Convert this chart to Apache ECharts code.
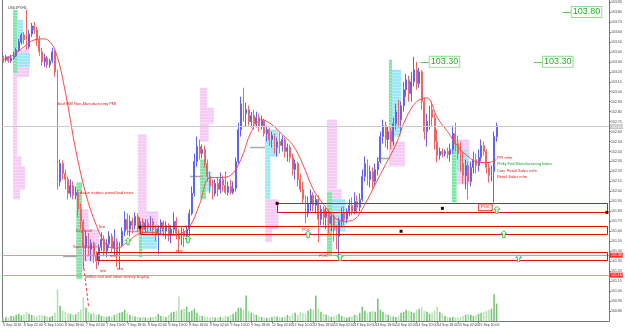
<!DOCTYPE html>
<html>
<head>
<meta charset="utf-8">
<script src="https://cdn.jsdelivr.net/npm/echarts@6/dist/echarts.min.js"></script>
<style>
  html, body { margin: 0; padding: 0; background: #fff; }
  #chart { width: 625px; height: 329px; }
</style>
</head>
<body>
<div id="chart"></div>
<script>
// hourly bars, [open, close, low, high]
const candles = [
  [103.34,103.32,103.29,103.36],[103.32,103.35,103.30,103.37],[103.35,103.31,103.29,103.36],[103.31,103.34,103.29,103.37],
  [103.34,103.36,103.32,103.40],[103.36,103.42,103.35,103.44],[103.42,103.50,103.40,103.53],[103.50,103.57,103.47,103.59],
  [103.57,103.52,103.48,103.60],[103.52,103.45,103.42,103.82],[103.45,103.58,103.43,103.62],[103.58,103.66,103.55,103.69],
  [103.66,103.62,103.58,103.70],[103.62,103.52,103.46,103.65],[103.52,103.40,103.36,103.56],[103.40,103.30,103.26,103.44],
  [103.30,103.34,103.25,103.38],[103.34,103.27,103.24,103.36],[103.27,103.31,103.24,103.33],[103.31,103.40,103.29,103.44],
  [103.40,103.20,103.15,103.42],[103.20,102.10,102.02,103.22],[102.10,102.28,102.05,102.32],[102.28,102.18,102.12,102.31],
  [102.18,102.12,102.02,102.22],[102.12,101.98,101.92,102.15],[101.98,102.06,101.94,102.12],[102.06,101.96,101.92,102.10],
  [101.96,101.99,101.92,102.05],[101.99,101.82,101.74,102.02],[101.82,101.70,101.62,101.88],[101.70,101.45,101.22,101.72],
  [101.45,101.55,101.30,101.60],[101.55,101.42,101.36,101.58],[101.42,101.48,101.30,101.52],[101.48,101.35,101.28,101.50],
  [101.35,101.30,101.22,101.40],[101.30,101.44,101.26,101.47],[101.44,101.52,101.40,101.59],[101.52,101.40,101.35,101.56],
  [101.40,101.47,101.34,101.52],[101.47,101.55,101.43,101.60],[101.55,101.43,101.38,101.58],[101.43,101.50,101.36,101.62],
  [101.50,101.35,101.24,101.53],[101.35,101.46,101.22,101.49],[101.46,101.60,101.44,101.64],[101.60,101.72,101.55,101.80],
  [101.72,101.62,101.56,101.78],[101.62,101.70,101.55,101.76],[101.70,101.66,101.58,101.74],[101.66,101.75,101.62,101.79],
  [101.75,101.64,101.59,101.78],[101.64,101.70,101.60,101.74],[101.70,101.62,101.57,101.73],[101.62,101.68,101.58,101.72],
  [101.68,101.64,101.59,101.72],[101.64,101.70,101.60,101.75],[101.70,101.62,101.57,101.73],[101.62,101.58,101.50,101.66],
  [101.58,101.63,101.37,101.66],[101.63,101.69,101.58,101.72],[101.69,101.60,101.55,101.71],[101.60,101.66,101.52,101.70],
  [101.66,101.56,101.50,101.68],[101.56,101.62,101.48,101.66],[101.62,101.70,101.57,101.79],[101.70,101.58,101.52,101.74],
  [101.58,101.52,101.39,101.62],[101.52,101.60,101.46,101.64],[101.60,101.55,101.44,101.63],[101.55,101.62,101.50,101.66],
  [101.62,101.78,101.55,101.82],[101.78,101.98,101.76,102.05],[101.98,102.30,101.95,102.38],[102.30,102.45,102.25,102.55],
  [102.45,102.38,102.32,102.52],[102.38,102.42,102.33,102.47],[102.42,102.28,102.24,102.46],[102.28,102.15,102.10,102.32],
  [102.15,102.05,101.98,102.20],[102.05,101.98,101.92,102.12],[101.98,102.08,101.95,102.12],[102.08,102.02,101.95,102.14],
  [102.02,102.12,101.98,102.19],[102.12,102.06,102.00,102.16],[102.06,101.99,101.97,102.20],[101.99,102.05,101.96,102.10],
  [102.05,101.99,101.97,102.12],[101.99,102.03,101.97,102.10],[102.03,102.30,102.00,102.34],[102.30,102.62,102.28,102.69],
  [102.62,102.88,102.55,102.95],[102.88,102.78,102.70,103.04],[102.78,102.82,102.65,102.89],[102.82,102.70,102.66,102.86],
  [102.70,102.76,102.64,102.80],[102.76,102.68,102.62,102.82],[102.68,102.74,102.64,102.80],[102.74,102.66,102.60,102.78],
  [102.66,102.71,102.62,102.76],[102.71,102.58,102.55,102.73],[102.58,102.62,102.50,102.66],[102.62,102.52,102.46,102.64],
  [102.52,102.56,102.44,102.60],[102.56,102.44,102.38,102.58],[102.44,102.50,102.35,102.54],[102.50,102.46,102.38,102.59],
  [102.46,102.52,102.40,102.56],[102.52,102.40,102.34,102.54],[102.40,102.44,102.30,102.48],[102.44,102.34,102.29,102.47],
  [102.34,102.22,102.16,102.38],[102.22,102.28,102.12,102.32],[102.28,102.12,102.05,102.30],[102.12,102.02,101.99,102.18],
  [102.02,101.92,101.88,102.10],[101.92,101.78,101.68,101.96],[101.78,101.88,101.74,101.95],[101.88,101.96,101.80,102.02],
  [101.96,101.86,101.80,101.99],[101.86,101.92,101.78,101.96],[101.92,101.72,101.49,101.96],[101.72,101.82,101.66,101.86],
  [101.82,101.74,101.66,101.85],[101.74,101.80,101.62,101.84],[101.80,101.68,101.58,101.82],[101.68,101.75,101.60,101.78],
  [101.75,101.62,101.50,101.78],[101.62,101.55,101.42,101.66],[101.55,101.70,101.32,101.74],[101.70,101.78,101.64,101.84],
  [101.78,101.72,101.66,101.85],[101.72,101.80,101.68,101.83],[101.80,101.86,101.75,101.92],[101.86,101.80,101.76,101.94],
  [101.80,101.90,101.77,101.99],[101.90,101.84,101.78,101.96],[101.84,101.92,101.80,101.98],[101.92,102.15,101.90,102.22],
  [102.15,102.28,102.10,102.35],[102.28,102.12,102.06,102.32],[102.12,102.20,102.04,102.26],[102.20,102.10,102.02,102.24],
  [102.10,102.22,102.06,102.28],[102.22,102.30,102.16,102.34],[102.30,102.55,102.28,102.60],[102.55,102.66,102.48,102.72],
  [102.66,102.52,102.44,102.70],[102.52,102.60,102.42,102.65],[102.60,102.50,102.42,102.64],[102.50,102.68,102.46,102.74],
  [102.68,102.80,102.62,102.88],[102.80,102.72,102.64,102.92],[102.72,102.86,102.60,102.90],[102.86,103.02,102.80,103.10],
  [103.02,103.12,102.95,103.18],[103.12,102.98,102.90,103.16],[102.98,103.10,102.90,103.20],[103.10,103.22,103.05,103.35],
  [103.22,103.08,103.02,103.30],[103.08,103.20,103.04,103.24],[103.20,102.90,102.82,103.22],[102.90,102.60,102.52,102.94],
  [102.60,102.70,102.45,102.78],[102.70,102.82,102.62,102.86],[102.82,102.74,102.66,102.90],[102.74,102.50,102.42,102.78],
  [102.50,102.36,102.29,102.62],[102.36,102.40,102.32,102.44],[102.40,102.38,102.34,102.43],[102.38,102.40,102.35,102.42],
  [102.40,102.37,102.33,102.44],[102.37,102.42,102.30,102.48],[102.42,102.58,102.38,102.66],[102.58,102.48,102.40,102.69],
  [102.48,102.38,102.32,102.56],[102.38,102.28,102.20,102.50],[102.28,102.16,102.08,102.40],[102.16,102.26,102.02,102.32],
  [102.26,102.10,101.92,102.30],[102.10,102.24,102.05,102.30],[102.24,102.32,102.18,102.40],[102.32,102.26,102.18,102.38],
  [102.26,102.34,102.20,102.42],[102.34,102.46,102.30,102.52],[102.46,102.40,102.36,102.50],[102.40,102.24,102.18,102.42],
  [102.24,102.16,102.09,102.28],[102.16,102.22,102.10,102.26],[102.20,102.55,101.89,102.60],[102.55,102.66,102.50,102.69]
];

const volumes = [
  300,400,350,500,450,600,700,550,650,900,700,600,500,450,600,550,
  500,450,400,500,800,3100,1500,1000,900,800,700,600,650,900,1100,2300,
  1300,900,700,800,600,650,500,450,400,500,450,600,700,800,900,1100,
  800,600,500,450,400,350,400,350,300,350,400,500,700,500,450,400,
  600,800,900,1000,2400,1100,1200,1400,900,1000,1200,800,600,500,450,400,
  350,400,350,300,400,350,500,450,600,700,900,1300,1300,1100,2500,1000,
  800,700,600,450,400,350,300,350,400,500,450,400,350,400,600,500,
  700,800,600,900,800,700,1000,1200,1100,2500,1200,900,700,600,500,400,
  450,600,700,500,400,350,400,500,600,550,800,1400,1000,800,900,1000,
  900,2200,1100,900,700,600,500,450,400,500,800,900,1100,1000,900,800,
  1100,1200,1300,1000,900,700,800,1000,1400,900,700,500,400,350,400,350,
  300,400,500,600,700,600,500,600,700,800,900,1000,1100,1200,2600,1700
];

// moving average read every 4th bar: [bar, price]
const maPoints = [
  [0,103.32],[4,103.37],[8,103.45],[12,103.52],[16,103.53],[20,103.42],[24,103.00],[28,102.42],
  [32,101.97],[36,101.66],[40,101.46],[44,101.43],[48,101.49],[52,101.57],[56,101.59],[60,101.58],
  [64,101.56],[68,101.57],[72,101.64],[76,101.87],[80,102.14],[84,102.14],[88,102.16],[92,102.32],
  [96,102.60],[100,102.72],[104,102.67],[108,102.57],[112,102.47],[116,102.27],[120,102.02],[124,101.87],
  [128,101.74],[132,101.70],[136,101.72],[140,101.87],[144,102.07],[148,102.27],[152,102.47],[156,102.74],
  [160,102.90],[164,102.94],[168,102.74],[172,102.60],[176,102.45],[180,102.35],[184,102.29],[188,102.29],[191,102.32]
];

const tickLabels = [
  '5 Sep 2016','6 Sep 02:00','6 Sep 10:00','6 Sep 18:00','7 Sep 02:00','7 Sep 10:00','7 Sep 18:00','8 Sep 02:00',
  '8 Sep 10:00','8 Sep 18:00','9 Sep 02:00','9 Sep 10:00','9 Sep 18:00','12 Sep 02:00','12 Sep 10:00','12 Sep 18:00',
  '13 Sep 02:00','13 Sep 10:00','13 Sep 18:00','14 Sep 02:00','14 Sep 10:00','14 Sep 18:00','15 Sep 02:00','15 Sep 10:00'
];

// volume profiles: [fromBar, toBar, priceTop, priceBottom]
const pinkRows = [
  [3.8,10.0,103.42,103.15],[3.8,5.3,103.15,102.35],[3.8,7.0,102.35,102.25],[3.8,8.4,102.25,102.02],[3.8,6.5,102.02,101.92],
  [28.3,33.0,101.82,101.62],[28.3,37.0,101.62,101.45],[28.3,35.0,101.45,101.30],[28.3,31.0,101.30,101.20],
  [52.1,55.5,102.57,101.80],[52.1,60.0,101.80,101.62],[52.1,62.5,101.62,101.55],
  [76.2,79.0,103.04,102.84],[76.2,81.5,102.84,102.68],[76.2,79.5,102.68,102.50],
  [101.4,106.5,101.92,101.62],[101.4,104.0,101.62,101.49],
  [125.3,129.2,102.72,102.02],[125.3,131.0,102.02,101.88],
  [149.3,155.5,102.50,102.25],
  [175.5,180.5,102.52,102.07]
];
const greenRows = [
  [3.8,5.5,103.82,103.19],[28.3,30.5,102.09,101.12],[52.5,53.8,101.67,101.34],[76.2,78.5,102.32,101.92],
  [125.3,127.3,101.99,101.35],[149.3,150.5,103.32,102.52],[173.7,175.5,102.52,101.89]
];
const cyanRows = [
  [5.5,7.6,103.72,103.49],[5.5,10.3,103.39,103.25],[53.8,59.5,101.64,101.42],[78.5,80.5,102.20,102.00],
  [101.4,103.4,102.62,101.92],[103.4,106.5,102.62,102.35],[127.3,132.5,101.92,101.60],[150.5,154.0,103.22,102.55],
  [175.5,180.0,102.42,102.20]
];
// point of control: [fromBar, toBar, price]
const pocLines = [[23.2,28.5,101.35],[47.9,52.9,101.60],[72.3,77.3,102.15],[95.5,101.3,102.45],[144.7,149.7,102.34]];

// zones: [fromBar, toBar, priceTop, priceBottom]
const zones = [[106.0,233.7,101.88,101.79],[52.9,233.7,101.65,101.57],[36.3,233.7,101.39,101.31]];
const levelLines = [101.36, 101.16];
const bidPrice = [102.65];
const dashSeg = [[31.0,101.28],[33.0,100.85]];
const arrowPts = [[48.3,101.50],[71.5,101.52],[118.0,101.57],[130.4,101.34],[191.1,101.815],[193.8,101.57],[199.5,101.33]];
const dotPts = [[106.0,101.88],[170.0,101.83],[154.0,101.60],[233.7,101.79],[52.9,101.64]];
const priceTags = [[225.8,103.80],[170.8,103.30],[214.7,103.30]];

const redNotes = [
  [21.2,102.88,'bad ISM Non-Manufacturing PMI'],
  [29.7,101.99,'Asian traders joined bad news'],
  [28.1,101.60,'Key level'],
  [27.0,101.44,'Speculators in'],
  [31.6,101.14,'sellers exit and smart money buying'],
  [36.7,101.64,'Test'],
  [41.3,101.35,'test'],
  [37.4,101.20,'test'],
  [44.0,101.22,'test'],
  [66.9,101.40,'test'],
  [115.6,101.61,'POC'],
  [122.2,101.35,'POC'],
  [191.1,102.34,'PPI m/m'],
  [191.1,102.21,'Core Retail Sales m/m'],
  [191.1,102.15,'Retail Sales m/m']
];
const greenNotes = [[191.1,102.28,'Philly Fed Manufacturing Index']];
const boxedNotes = [[184.2,101.84,'POC']];

const NBARS = 235;
const FONT = '"Liberation Sans", Arial, sans-serif';
const cats = [];
for (let i = 0; i < NBARS; i++) cats.push(i);

function xAt(api, u) {
  return api.coord([0, 102])[0] + u * api.size([1, 0])[0];
}
function yAt(api, p) {
  return api.coord([0, p])[1];
}
function crisp(v) {
  return Math.round(v) + 0.5;
}

// profile block with the thin white row lines seen in the terminal's histogram
function fillSeries(rows, color) {
  return {
    type: 'custom', z: 1, silent: true, data: rows.map((r, i) => [i, r[2]]),
    renderItem: (params, api) => {
      const r = rows[params.dataIndex];
      const x0 = xAt(api, r[0]), x1 = xAt(api, r[1]);
      const y0 = yAt(api, r[2]), y1 = yAt(api, r[3]);
      const children = [
        { type: 'rect', shape: { x: x0, y: y0, width: x1 - x0, height: y1 - y0 }, style: { fill: color } }
      ];
      for (let y = Math.ceil(y0) + 2; y < y1 - 1; y += 3) {
        children.push({ type: 'line', shape: { x1: x0, y1: y + 0.5, x2: x1, y2: y + 0.5 },
          style: { stroke: 'rgba(255,255,255,0.55)', lineWidth: 0.6 } });
      }
      return { type: 'group', children: children };
    }
  };
}

function noteSeries(notes, color, boxed) {
  return {
    type: 'custom', z: 8, silent: true, data: notes.map((n, i) => [i, n[1]]),
    renderItem: (params, api) => {
      const n = notes[params.dataIndex];
      const style = {
        text: n[2], x: xAt(api, n[0]), y: yAt(api, n[1]), fill: color,
        fontSize: 4, fontFamily: FONT, align: 'left', verticalAlign: 'middle'
      };
      if (boxed) {
        style.borderColor = '#e01010';
        style.borderWidth = 0.8;
        style.padding = [1, 2];
        style.backgroundColor = '#fff0f0';
      }
      return { type: 'text', style: style };
    }
  };
}

const chart = echarts.init(document.getElementById('chart'));

const option = {
  animation: false,
  backgroundColor: '#fff',
  title: {
    text: 'USDJPY,H1', left: 3, top: 1,
    textStyle: { fontSize: 3.5, fontWeight: 'normal', color: '#333', fontFamily: FONT }
  },
  grid: [
    { left: 2, right: 16, top: 0, bottom: 8 },
    { left: 2, right: 16, top: 280, bottom: 8 }
  ],
  xAxis: [
    {
      type: 'category', gridIndex: 0, data: cats, boundaryGap: true,
      axisLine: { show: true, lineStyle: { color: '#777', width: 1 } },
      axisTick: {
        show: true, alignWithLabel: true, length: 2, lineStyle: { color: '#777' },
        interval: (idx) => idx % 8 === 0 && idx / 8 < tickLabels.length
      },
      axisLabel: {
        interval: (idx) => idx % 8 === 0 && idx / 8 < tickLabels.length,
        formatter: (v, idx) => tickLabels[idx / 8] || '',
        fontSize: 3.5, color: '#444', margin: 2, align: 'left', fontFamily: FONT
      },
      splitLine: { show: false }
    },
    { type: 'category', gridIndex: 1, data: cats, show: false }
  ],
  yAxis: [
    {
      type: 'value', gridIndex: 0, position: 'right', min: 100.7, max: 103.92, interval: 0.1,
      axisLine: { show: true, lineStyle: { color: '#777', width: 1 } },
      axisTick: { show: true, length: 2, lineStyle: { color: '#777' } },
      axisLabel: {
        fontSize: 3.5, color: '#444', margin: 2, fontFamily: FONT,
        showMaxLabel: false, showMinLabel: false,
        formatter: (v) => v.toFixed(2)
      },
      splitLine: { show: false }
    },
    {
      type: 'value', gridIndex: 0, position: 'left', min: 0, max: 1,
      axisLine: { show: true, lineStyle: { color: '#777', width: 1 } },
      axisTick: { show: false }, axisLabel: { show: false }, splitLine: { show: false }
    },
    { type: 'value', gridIndex: 1, min: 0, max: 4000, show: false, splitLine: { show: false } }
  ],
  series: [
    fillSeries(pinkRows, '#f5caf5'),
    fillSeries(greenRows, '#7ce6a4'),
    fillSeries(cyanRows, '#9be6f7'),
    {
      type: 'custom', z: 2, silent: true, data: pocLines.map((r, i) => [i, r[2]]),
      renderItem: (params, api) => {
        const r = pocLines[params.dataIndex];
        const y = crisp(yAt(api, r[2]));
        return { type: 'line', shape: { x1: xAt(api, r[0]), y1: y, x2: xAt(api, r[1]), y2: y },
          style: { stroke: '#a8a8a8', lineWidth: 1.5 } };
      }
    },
    {
      type: 'bar', xAxisIndex: 1, yAxisIndex: 2, barWidth: '60%', silent: true, z: 2,
      data: volumes.map((v, i) => ({
        value: v,
        itemStyle: { color: candles[i][1] >= candles[i][0] ? '#72c472' : '#b4e2b4' }
      }))
    },
    {
      type: 'candlestick', xAxisIndex: 0, yAxisIndex: 0, barWidth: '55%', z: 3, silent: true,
      data: candles,
      itemStyle: {
        color: '#b4b4ff', color0: '#ffc0c0',
        borderColor: '#6262f4', borderColor0: '#f26464', borderWidth: 1
      },
      markLine: {
        silent: true, symbol: ['none', 'none'], animation: false,
        label: {
          show: true, position: 'end', color: '#fff', fontSize: 3.5, fontFamily: FONT,
          padding: [1, 1, 0, 1], distance: 1
        },
        data: [
          ...bidPrice.map((v) => ({
            yAxis: v, lineStyle: { color: '#cdcdcd', width: 1, type: 'solid' },
            label: { formatter: v.toFixed(2), backgroundColor: '#c4c4c4' }
          })),
          ...levelLines.map((v) => ({
            yAxis: v, lineStyle: { color: '#ff8a8a', width: 1, type: 'solid' },
            label: { formatter: v.toFixed(2), backgroundColor: '#ff2a2a' }
          }))
        ]
      }
    },
    {
      type: 'line', xAxisIndex: 0, yAxisIndex: 0, data: maPoints, smooth: 0.35,
      showSymbol: false, silent: true, z: 4,
      lineStyle: { color: '#ff4a4a', width: 1 }
    },
    {
      type: 'custom', z: 5, silent: true, data: zones.map((r, i) => [i, r[2]]),
      renderItem: (params, api) => {
        const r = zones[params.dataIndex];
        const x0 = crisp(xAt(api, r[0])), x1 = crisp(xAt(api, r[1]));
        const y0 = crisp(yAt(api, r[2])), y1 = crisp(yAt(api, r[3]));
        return { type: 'rect', shape: { x: x0, y: y0, width: x1 - x0, height: y1 - y0 },
          style: { fill: 'none', stroke: '#e41010', lineWidth: 1 } };
      }
    },
    {
      type: 'custom', z: 5, silent: true, data: [[0, dashSeg[0][1]]],
      renderItem: (params, api) => ({
        type: 'line',
        shape: { x1: xAt(api, dashSeg[0][0]), y1: yAt(api, dashSeg[0][1]), x2: xAt(api, dashSeg[1][0]), y2: yAt(api, dashSeg[1][1]) },
        style: { stroke: '#ff3c3c', lineWidth: 1, lineDash: [3, 2] }
      })
    },
    {
      type: 'custom', z: 6, silent: true, data: arrowPts.map((p, i) => [i, p[1]]),
      renderItem: (params, api) => {
        const p = arrowPts[params.dataIndex];
        const cx = xAt(api, p[0]), cy = yAt(api, p[1]);
        return {
          type: 'polygon',
          shape: { points: [[cx, cy - 3.5], [cx + 3, cy - 0.5], [cx + 1.2, cy - 0.5], [cx + 1.2, cy + 3.5],
            [cx - 1.2, cy + 3.5], [cx - 1.2, cy - 0.5], [cx - 3, cy - 0.5]] },
          style: { fill: '#fff', stroke: '#2ecc40', lineWidth: 1 }
        };
      }
    },
    {
      type: 'custom', z: 6, silent: true, data: dotPts.map((p, i) => [i, p[1]]),
      renderItem: (params, api) => {
        const p = dotPts[params.dataIndex];
        const cx = xAt(api, p[0]), cy = yAt(api, p[1]);
        return { type: 'rect', shape: { x: cx - 1.5, y: cy - 1.5, width: 3, height: 3 }, style: { fill: '#3a0000' } };
      }
    },
    noteSeries(redNotes, '#e81818', false),
    noteSeries(greenNotes, '#1fa02f', false),
    noteSeries(boxedNotes, '#e81818', true),
    {
      type: 'custom', z: 7, silent: true, data: priceTags.map((p, i) => [i, p[1]]),
      renderItem: (params, api) => {
        const p = priceTags[params.dataIndex];
        const cx = xAt(api, p[0]), cy = yAt(api, p[1]);
        return {
          type: 'group',
          children: [
            { type: 'line', shape: { x1: cx - 24, y1: crisp(cy), x2: cx - 14, y2: crisp(cy) },
              style: { stroke: '#5fcf5f', lineWidth: 1 } },
            { type: 'text', style: {
              text: p[1].toFixed(2), x: cx, y: cy, fill: '#1fb51f', fontSize: 9, fontFamily: FONT,
              align: 'center', verticalAlign: 'middle', backgroundColor: '#fff',
              borderColor: '#8ee08e', borderWidth: 1, padding: [1, 1, 0, 1]
            } }
          ]
        };
      }
    }
  ]
};

chart.setOption(option);
</script>
</body>
</html>
